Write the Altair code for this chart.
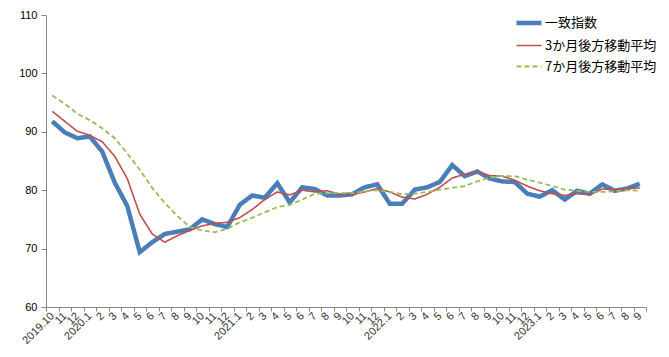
import altair as alt
import pandas as pd

tick_labels = [
    "2019.10", "11", "12",
    "2020.1", "2", "3", "4", "5", "6", "7", "8", "9", "10", "11", "12",
    "2021.1", "2", "3", "4", "5", "6", "7", "8", "9", "10", "11", "12",
    "2022.1", "2", "3", "4", "5", "6", "7", "8", "9", "10", "11", "12",
    "2023.1", "2", "3", "4", "5", "6", "7", "8", "9",
]

series_names = ["一致指数", "3か月後方移動平均", "7か月後方移動平均"]

coincident = [91.8, 89.9, 88.9, 89.2, 86.6, 81.3, 77.3, 69.4, 71.1, 72.5,
              72.9, 73.3, 75.0, 74.2, 73.7, 77.5, 79.1, 78.7, 81.2, 77.9,
              80.5, 80.2, 79.1, 79.1, 79.3, 80.5, 81.0, 77.7, 77.7, 80.1,
              80.5, 81.4, 84.3, 82.4, 83.2, 82.0, 81.5, 81.4, 79.4, 78.9,
              80.0, 78.4, 79.9, 79.4, 81.0, 79.9, 80.3, 81.1]

ma3 = [93.5, 91.8, 90.1, 89.4, 88.3, 85.8, 82.0, 75.9, 72.5, 71.1,
       72.2, 73.1, 73.9, 74.3, 74.5, 75.3, 76.7, 78.4, 79.7, 79.2,
       80.0, 79.7, 79.9, 79.3, 79.3, 79.7, 80.3, 79.7, 78.8, 78.5,
       79.3, 80.5, 82.1, 82.7, 83.2, 82.5, 82.4, 81.7, 80.7, 79.9,
       79.4, 79.1, 79.4, 79.2, 80.2, 80.1, 80.3, 80.4]

ma7 = [96.2, 94.8, 93.1, 92.0, 90.6, 88.9, 86.3, 83.5, 80.4, 77.8,
       75.6, 73.7, 73.1, 72.8, 73.4, 74.5, 75.3, 76.2, 77.1, 77.5,
       78.4, 79.4, 79.5, 79.5, 79.5, 79.8, 80.0, 79.7, 79.3, 79.4,
       79.7, 80.1, 80.4, 80.7, 81.5, 82.2, 82.4, 82.4, 81.8, 81.3,
       80.7, 80.1, 79.9, 79.7, 79.7, 79.8, 80.0, 79.9]

y_ticks = [60, 70, 80, 90, 100, 110]

rows = []
for name, vals in zip(series_names, [coincident, ma3, ma7]):
    for i, v in enumerate(vals):
        rows.append({"idx": i, "series": name, "value": v})
df = pd.DataFrame(rows)

label_array = "[" + ",".join('"%s"' % t for t in tick_labels) + "]"
axis_gray = "#868686"
font = "Noto Sans CJK JP"
axis_font = "Liberation Sans"

legend = alt.Legend(
    title=None, orient="none", legendX=468, legendY=-7,
    symbolType="stroke", symbolSize=625, labelFontSize=13, labelFont=font,
    labelColor="black", labelOffset=1, rowPadding=-1, labelLimit=300,
)

base = alt.Chart(df).encode(
    x=alt.X("idx:O", bandPosition=0.5,
            scale=alt.Scale(type="band", paddingInner=0, paddingOuter=0),
            axis=alt.Axis(title=None, labelExpr=label_array + "[datum.value]",
                          labelAngle=-45, labelAlign="right", labelBaseline="middle",
                          tickBand="extent", tickSize=4, labelPadding=3,
                          domainColor=axis_gray, tickColor=axis_gray,
                          labelFont=axis_font, labelFontSize=11, labelColor="#333333",
                          grid=False)),
    y=alt.Y("value:Q", scale=alt.Scale(domain=[60, 110], nice=False, zero=False),
            axis=alt.Axis(title=None, values=y_ticks, grid=False, tickSize=5,
                          labelPadding=4, domainColor=axis_gray, tickColor=axis_gray,
                          labelFont=axis_font, labelFontSize=11, labelColor="black")),
    color=alt.Color("series:N", scale=alt.Scale(domain=series_names,
                    range=["#4a7ebb", "#c0504d", "#9bbb59"]), legend=legend),
    strokeDash=alt.StrokeDash("series:N", scale=alt.Scale(domain=series_names,
                              range=[[1, 0], [1, 0], [5, 3]]), legend=legend),
    strokeWidth=alt.StrokeWidth("series:N", scale=alt.Scale(type="ordinal", domain=series_names,
                                range=[4.5, 1.6, 1.8]), legend=legend),
)

layers = [base.mark_line().transform_filter(alt.datum.series == n) for n in series_names]

chart = alt.layer(*layers).properties(
    width=600, height=292,
    autosize=alt.AutoSizeParams(type="none"),
    padding={"left": 38, "top": 7, "right": 15, "bottom": 42},
).configure_view(stroke=None).configure_axis(domainWidth=1, tickWidth=1)

chart.save("out.html", embed_options={"renderer": "svg", "actions": False})
